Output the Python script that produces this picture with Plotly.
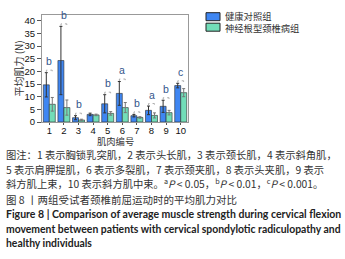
import plotly.graph_objects as go

muscles = [1, 2, 3, 4, 5, 6, 7, 8, 9, 10]
healthy = [14.7, 24.3, 1.7, 3.0, 7.2, 11.3, 2.5, 4.6, 6.2, 14.4]
healthy_err = [4.8, 13.5, 0.8, 0.5, 3.6, 4.7, 0.5, 1.7, 2.4, 0.9]
patient = [7.0, 5.7, 0.8, 2.8, 3.4, 5.7, 1.8, 2.6, 3.7, 11.6]
patient_err = [2.7, 3.0, 0.3, 0.3, 0.7, 2.0, 0.3, 1.0, 0.9, 1.6]
sig = ["b", "b", "b", "", "b", "a", "b", "a", "b", "c"]
y_ticks = [0, 5, 10, 15, 20, 25, 30, 35, 40]
series_names = ["健康对照组", "神经根型颈椎病组"]
series_colors = ["#3F86F2", "#72DDB8"]

CJK = "Noto Sans CJK SC"
LAT = "Liberation Sans, Arial"

fig = go.Figure()
fig.add_trace(go.Bar(
    x=muscles, y=healthy, name=series_names[0], showlegend=False,
    marker=dict(color=series_colors[0], line=dict(color="#2a2a2a", width=0.6)),
    error_y=dict(type="data", array=healthy_err, color="#333333", thickness=1, width=1.5),
))
fig.add_trace(go.Bar(
    x=muscles, y=patient, name=series_names[1], showlegend=False,
    marker=dict(color=series_colors[1], line=dict(color="#2a2a2a", width=0.6)),
    error_y=dict(type="data", array=patient_err, color="#777777", thickness=1, width=1.5),
))

# significance brackets and letters
for m, h, he, p, pe, s in zip(muscles, healthy, healthy_err, patient, patient_err, sig):
    if not s:
        continue
    top = max(h + he, p + pe) + 1.0
    fig.add_trace(go.Scatter(
        x=[m - 0.2, m - 0.2, m + 0.2, m + 0.2],
        y=[top - 0.8, top, top, top - 0.8],
        mode="lines", line=dict(color="#9a9a9a", width=0.8, dash="dot"),
        showlegend=False, hoverinfo="skip",
    ))
    fig.add_annotation(x=m, y=top + 0.3, text=s, showarrow=False, yanchor="bottom",
                       font=dict(family=LAT, size=10.5, color="#34568B"))

PT, PB, PL, PR = 15, 122, 42, 188
W = PR - PL
H = PB - PT

def px_x(v):
    return (v - PL) / W

def px_y(v):
    return (PB - v) / H

# legend (drawn in paper space)
for i, col in enumerate(series_colors):
    cy = 16.7 + 10.5 * i
    fig.add_shape(type="rect", xref="paper", yref="paper",
                  x0=px_x(206), x1=px_x(220), y0=px_y(cy + 4), y1=px_y(cy - 4),
                  fillcolor=col, line=dict(color="#222222", width=1))
fig.add_annotation(xref="paper", yref="paper", x=px_x(224), y=px_y(22), text="<br>".join(series_names),
                   xanchor="left", yanchor="middle", showarrow=False, align="left", borderpad=0,
                   font=dict(family=CJK, size=9.3, color="#333333"))

captions = [
    (140.5, "肌肉编号", CJK, 9.3, "#333333", px_x(115), "center"),
    (154.5, "图注：1 表示胸锁乳突肌，2 表示头长肌，3 表示颈长肌，4 表示斜角肌，", CJK, 10.3, "#333333", None, "left"),
    (169, "5 表示肩胛提肌，6 表示多裂肌，7 表示颈夹肌，8 表示头夹肌，9 表示", CJK, 10.3, "#333333", None, "left"),
    (183, "斜方肌上束，10 表示斜方肌中束。<sup>a</sup><i>P</i> < 0.05，<sup>b</sup><i>P</i> < 0.01，<sup>c</sup><i>P</i> < 0.001。", CJK, 10.3, "#333333", None, "left"),
    (199, "图 8 丨两组受试者颈椎前屈运动时的平均肌力对比", CJK, 10.5, "#333333", None, "left"),
    (214, "<b>Figure 8 | Comparison of average muscle strength during cervical flexion</b>", "Lato", 10.5, "#222222", None, "left"),
    (229, "<b>movement between patients with cervical spondylotic radiculopathy and</b>", "Lato", 10.4, "#222222", None, "left"),
    (243, "<b>healthy individuals</b>", "Lato", 10.4, "#222222", None, "left"),
]
for ypix, txt, fam, sz, col, xp, anc in captions:
    fig.add_annotation(xref="paper", yref="paper",
                       x=px_x(5) if xp is None else xp,
                       y=px_y(ypix),
                       xanchor=anc, yanchor="middle", text=txt, showarrow=False, align="left",
                       borderpad=0, font=dict(family=fam, size=sz, color=col))

fig.add_annotation(xref="paper", yref="paper", x=px_x(18), y=px_y(68.5), text="平均肌力 (N)",
                   textangle=-90, showarrow=False, xanchor="center", yanchor="middle", borderpad=0,
                   font=dict(family=CJK, size=10, color="#333333"))

fig.update_layout(
    width=345, height=259,
    margin=dict(l=PL, r=345 - PR, t=PT, b=259 - PB, autoexpand=False),
    paper_bgcolor="white", plot_bgcolor="white",
    barmode="group", bargap=0.18, bargroupgap=0,
    font=dict(family=CJK, color="#333333"),
    showlegend=False,
    xaxis=dict(range=[0.5, 10.5], tickmode="array", tickvals=muscles,
               ticktext=[str(m) for m in muscles],
               tickfont=dict(family=LAT, size=9.5, color="#111111"),
               ticks="outside", ticklen=2, tickcolor="#555555", ticklabelstandoff=-2,
               showline=True, linecolor="#999999", linewidth=1, mirror=True,
               automargin=False),
    yaxis=dict(range=[0, 42.3], tickmode="array", tickvals=y_ticks,
               tickfont=dict(family=LAT, size=9.5, color="#111111"),
               ticks="outside", ticklen=4, tickcolor="#555555",
               showline=True, linecolor="#999999", linewidth=1, mirror=True,
               showgrid=False, zeroline=False, automargin=False),
)
fig.write_html("out.html", config={"displayModeBar": False},
               post_script="document.body.style.margin='0';document.body.style.overflow='hidden';")
